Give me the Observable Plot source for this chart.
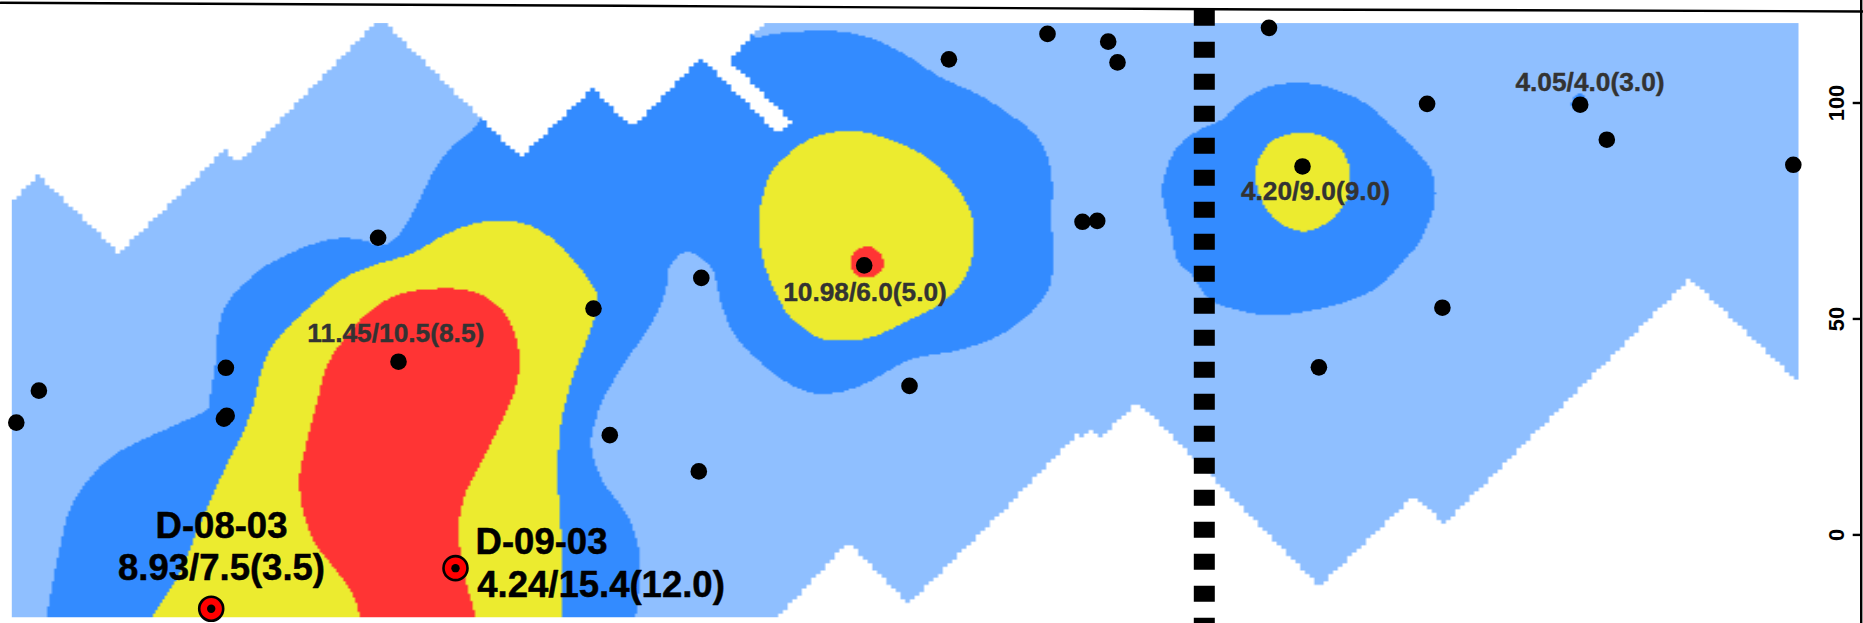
<!DOCTYPE html>
<html>
<head>
<meta charset="utf-8">
<script src="https://cdn.jsdelivr.net/npm/d3@7"></script>
<script src="https://cdn.jsdelivr.net/npm/@observablehq/plot@0.6"></script>
<style>html,body{margin:0;padding:0;background:#fff}svg{display:block}</style>
</head>
<body>
<div id="chart"></div>
<script>
const mapped = [[1.13,-19.06],[1.13,77.0],[3.76,83.4],[11.86,65.2],[22.4,89.2],[23.8,86.2],[37.5,118.5],[38.5,118.5],[52.0,87.4],[59.2,103.4],[63.16,94.4],[70.08,110.5],[77.67,93.0],[79.06,95.8],[72.85,109.8],[76.3,118.5],[179.8,118.5],[179.8,35.3],[168.9,59.4],[144.4,2.6],[141.27,9.0],[131.9,-11.9],[115.67,26.5],[113.58,30.4],[109.9,22.4],[109.0,24.0],[108.3,22.6],[107.65,23.2],[100.0,5.0],[90.8,-15.9],[84.77,-1.7],[77.67,-19.06]];
const level1Main = [[4.1,-24],[4.57,-19.06],[5.8,-4.3],[7.0,6.3],[8.7,12.6],[11.3,18.4],[14.7,22.6],[18.0,26.0],[20.76,29.3],[20.88,31.1],[21.67,42.7],[21.75,47.3],[22.7,53.9],[25.3,60.1],[26.1,61.7],[30.8,67.0],[34.0,68.7],[36.4,68.2],[37.8,67.0],[39.15,68.0],[40.9,73.3],[42.5,80.5],[43.5,85.1],[45.27,90.2],[48.0,96.4],[49.0,119.1],[74,119.1],[75.5,115.4],[77.5,116.1],[80.17,116.6],[83.7,116.6],[86.9,115.1],[90.05,111.8],[94.0,106.0],[97.96,101.7],[101.1,97.1],[103.5,92.5],[104.7,87.5],[105.15,82.1],[105.1,72.8],[105.3,62.8],[104.7,56.6],[102.5,50.4],[99.5,45.8],[95.6,42.7],[91.2,40.8],[88.86,38.1],[86.5,35.1],[83.7,33.0],[80.96,33.0],[78.6,35.4],[75.8,40.4],[73.44,46.2],[72.06,53.6],[71.47,59.7],[71.27,61.2],[69.9,64.3],[68.5,65.5],[66.9,62.0],[66.5,56.6],[65.1,48.9],[62.77,41.1],[60.2,31.1],[59.5,26.5],[59.07,22.6],[59.17,18.8],[60.3,12.2],[62.67,4.5],[63.8,-2.8],[64.0,-8.2],[63.5,-19.06],[63.3,-24]];
const level1Right = [[122,96.0],[124.2,100.6],[126.76,103.7],[129.7,104.7],[132.7,103.7],[136.5,99.9],[139,94.8],[142,87.8],[143.17,83.7],[143.47,78.2],[143,73.6],[141.78,67.5],[140.3,63.5],[137.55,57.1],[134.38,53.9],[130.15,51.6],[127.2,50.8],[123.8,52.0],[120.85,54.7],[119.3,59.7],[117.7,63.5],[117.1,69.8],[116.55,74.4],[116.15,79.7],[116.55,84.4],[117.7,89.8],[120.1,94.1]];
const level1Spot = [[157.1,99.5],[157.4,101.6],[157.9,102.2],[158.4,101.6],[158.7,99.5],[157.9,98]];
const level2Left = [[14.4,-24],[15.17,-19.06],[16.67,-13.6],[18.17,-7.5],[19.67,1.0],[21,8.0],[22.67,16.5],[24.1,23.0],[25.3,30.4],[26.1,38.1],[27.1,43.5],[29.26,49.2],[31.6,54.3],[34,58.9],[36.4,61.7],[41.1,65.2],[44.7,69.8],[47.45,72.1],[50.2,72.8],[53,71.6],[55.36,68.2],[57.3,63.5],[58.9,58.9],[59.7,55.0],[59.1,48.1],[58.1,42.0],[56.9,34.2],[55.95,24.2],[55.75,9.6],[55.9,8.4],[56.1,-19.06],[56.2,-24]];
const level2Middle = [[84.9,93.5],[81.35,92.1],[79,88.6],[77.2,84.4],[76.2,78.2],[75.8,71.6],[76.2,64.3],[77.4,56.6],[79,50.4],[81.75,45.8],[83.7,45.0],[86.9,45.7],[91.2,50.1],[94,53.6],[95.8,57.4],[97,62.8],[97.37,70.5],[96.77,75.9],[94.8,82.8],[92,88.3],[87.68,92.5]];
const level2Right = [[130.36,93.1],[127.6,91.8],[126.1,88.3],[125.5,83.7],[126.1,77.4],[128,72.1],[130.36,70.3],[132.7,72.4],[134.4,76.7],[135,82.8],[134.16,89.0],[132.47,92.1]];
const level3Left = [[43.5,57.0],[47.45,56.2],[50.2,52.0],[51.4,46.6],[51.9,40.4],[51.4,33.4],[49.8,24.9],[48.0,16.5],[46.5,9.6],[45.8,1.8],[46.17,-6.6],[46.67,-12.1],[47.5,-19.06],[47.7,-24],[35.8,-24],[35.93,-19.06],[35,-12.9],[33,-6.6],[31.3,-1.3],[30.17,6.4],[29.9,13.4],[30.5,20.3],[31.6,30.4],[32.6,38.8],[34,44.3],[36.77,51.6],[39.54,55.4]];
const level3Middle = [[86.6,66.8],[87.7,65.8],[88.3,63.1],[88,60.8],[86.6,59.6],[85.4,60.5],[85,63.1],[85.5,65.6]];

const samples = [[1.58,26.0],[3.84,33.4],[22.54,38.7],[22.62,27.6],[22.34,26.9],[37.76,68.8],[39.8,40.1],[59.3,52.4],[60.93,23.1],[69.83,14.7],[70.08,59.5],[86.37,62.4],[90.9,34.5],[94.84,110.1],[104.7,116.0],[110.77,114.2],[111.7,109.4],[108.2,72.5],[109.67,72.7],[126.85,117.4],[130.2,85.3],[131.84,38.8],[144.19,52.6],[142.66,99.8],[157.97,99.6],[160.63,91.5],[179.28,85.7]];
const highlighted = [[21.07,-17.1],[45.5,-7.7]];

const greyLabels = ["11.45/10.5(8.5)","10.98/6.0(5.0)","4.20/9.0(9.0)","4.05/4.0(3.0)"];
const greyLabelX = [39.53,86.45,131.5,158.95];
const greyLabelY = [46.6,56.1,79.6,104.7];
const boldLabels = ["D-08-03","8.93/7.5(3.5)","D-09-03","4.24/15.4(12.0)"];
const boldLabelX = [22.1,22.1,54.1,60.05];
const boldLabelY = [2.0,-7.7,-1.7,-11.6];

const topEdge = [[0,123.2],[62,122.5],[122,121.7],[186.3,121.2]];
const divider = 120.38;
const yTicks = [0,50,100];
const levels = [0,1,2,3,4];
const levelColors = ["#ffffff","#8FBFFF","#338BFF","#ECEB2F","#FF3434"];

// Contour outlines are drawn as smooth closed curves through the points.
const ctx = document.createElement("canvas").getContext("2d");
const outline = d3.line().x(d => d[0] * 10).y(d => d[1] * 4.319).curve(d3.curveCatmullRomClosed.alpha(0.5));
const path = pts => new Path2D(outline(pts));
const reds = [level3Left, level3Middle].map(path);
const yellows = [level2Left, level2Middle, level2Right].map(path);
const blues = [level1Main, level1Right, level1Spot].map(path);
const inAny = (paths, x, y) => paths.some(p => ctx.isPointInPath(p, x * 10, y * 4.319));
// The mapped area has an edge two raster cells coarse; the contours inside it are finer.
const maskCellX = (179.8 - 1.13) / 380, maskCellY = (118.5 + 19.06) / 165;
const snap = (v, o, c) => o + (Math.floor((v - o) / c) + 0.5) * c;
function levelAt(x, y) {
  if (!d3.polygonContains(mapped, [snap(x, 1.13, maskCellX), snap(y, -19.06, maskCellY)])) return 0;
  if (inAny(reds, x, y)) return 4;
  if (inAny(yellows, x, y)) return 3;
  if (inAny(blues, x, y)) return 2;
  return 1;
}

const font = "Liberation Sans, Arial, sans-serif";
const chart = Plot.plot({
  width: 1863, height: 623,
  marginTop: 0, marginRight: 0, marginBottom: 0, marginLeft: 0,
  style: {background: "#fff", fontFamily: font},
  x: {domain: [0, 186.3], axis: null},
  y: {domain: [-20.51, 123.73], axis: null},
  color: {type: "ordinal", domain: levels, range: levelColors, legend: false},
  marks: [
    Plot.raster({fill: levelAt, x1: 1.13, x2: 179.8, y1: 118.5, y2: -19.06, width: 760, height: 330}),
    Plot.ruleX([divider], {y1: 121.5, y2: -20.51, stroke: "#000", strokeWidth: 21, strokeDasharray: "16 16"}),
    Plot.line(topEdge, {x: d => d[0], y: d => d[1], stroke: "#000", strokeWidth: 2.4}),
    Plot.ruleX([186.07], {stroke: "#000", strokeWidth: 2.4}),
    Plot.axisY(yTicks, {anchor: "left", x: 186.07, tickSize: 8, tickPadding: 9, tickRotate: -90, strokeWidth: 2.4, stroke: "#000", fill: "#000", fontSize: 22, fontWeight: "bold", fontFamily: font, label: null}),
    Plot.dot(samples, {x: d => d[0], y: d => d[1], r: 8.3, fill: "#000"}),
    Plot.dot(highlighted, {x: d => d[0], y: d => d[1], r: 12, fill: "#FF0000", stroke: "#000", strokeWidth: 2.6}),
    Plot.dot(highlighted, {x: d => d[0], y: d => d[1], r: 4.2, fill: "#000"}),
    Plot.text(greyLabels, {x: greyLabelX, y: greyLabelY, fill: "#333", stroke: "#333", strokeWidth: 0.4, fontSize: 26.3, fontWeight: "bold", fontFamily: font}),
    Plot.text(boldLabels, {x: boldLabelX, y: boldLabelY, fill: "#000", stroke: "#000", strokeWidth: 0.5, fontSize: 36.5, fontWeight: "bold", fontFamily: font})
  ]
});
document.getElementById("chart").append(chart);
</script>
</body>
</html>
